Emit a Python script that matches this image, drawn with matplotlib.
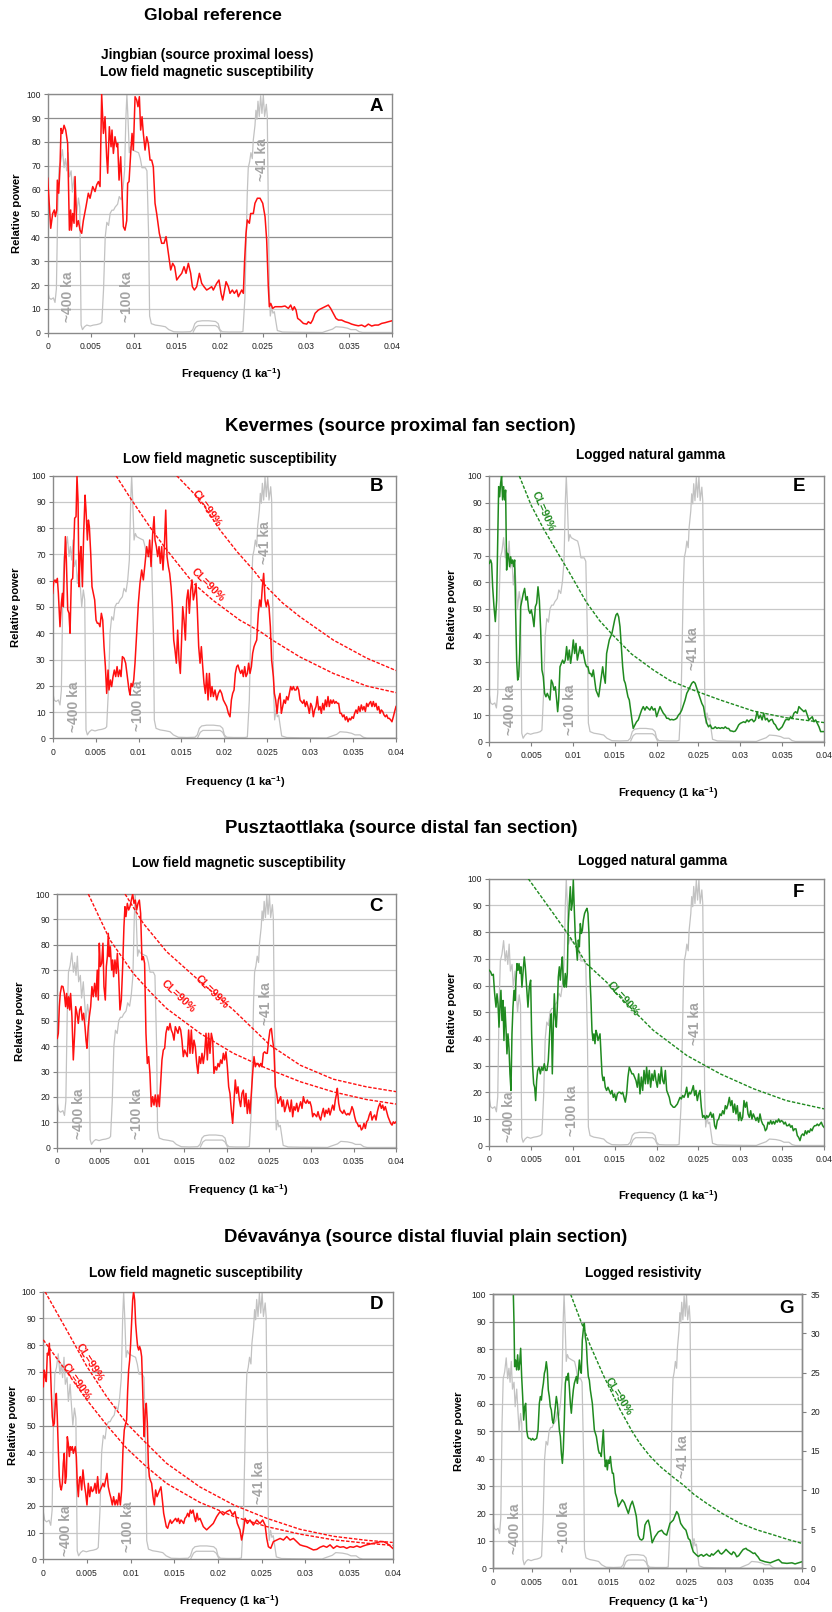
import numpy as np
import matplotlib
matplotlib.use("Agg")
import matplotlib.pyplot as plt

plt.rcParams['font.family'] = ['Liberation Sans', 'DejaVu Sans']
plt.rcParams['mathtext.fontset'] = 'custom'
plt.rcParams['mathtext.rm'] = 'Liberation Sans'
plt.rcParams['mathtext.bf'] = 'Liberation Sans:bold'

W, H = 832, 1612
fig = plt.figure(figsize=(W / 100, H / 100), dpi=100)

# ---------------- data: (frequency [1e-3 ka^-1], relative power [%]) ----------------
ref_orbital = [(0,17.8),(0.16,14.6),(0.39,14),(0.66,14.6),(0.85,12.7),(1.01,18.4),(1.17,52.7),(1.32,69.2),(1.51,71.7),(1.71,76.8),
(1.90,69.2),(2.06,73),(2.21,67.9),(2.37,75.5),(2.52,65.4),(2.72,67.9),(2.87,59),(3.07,65.4),(3.22,57.7),(3.38,50.1),
(3.57,56.5),(3.73,52.7),(3.88,3.2),(4.04,1.3),(4.27,2.5),(4.54,3.2),(4.93,2.8),(5.32,3.2),(5.71,3.4),(6.10,3.8),
(6.29,4.4),(6.49,18.4),(6.68,40),(6.87,46.3),(7.07,45),(7.26,50.1),(7.46,51.4),(7.65,51.4),(7.84,52.7),(8.12,53.9),
(8.31,57.1),(8.54,55.8),(8.74,60.3),(8.93,67.9),(9.09,90.7),(9.20,99.9),(9.32,90.7),(9.48,75.5),(9.63,78),(9.79,76.8),
(10.17,76.1),(10.56,75.5),(10.76,73),(10.95,69.2),(11.34,69.2),(11.53,67.9),(11.73,40),(11.84,7),(12.04,3.8),(12.50,3.2),
(13.09,2.9),(13.67,2.5),(14.06,1.3),(14.64,0.4),(15.61,0.3),(16.58,0.4),(16.85,1.3),(17.09,3.8),(17.36,4.7),(17.94,5),
(18.72,5),(19.50,4.7),(19.81,3.8),(20.00,1.3),(20.27,0.4),(21.05,0.3),(22.41,0.3),(22.68,0.5),(22.91,14.6),(23.07,40),
(23.18,57.7),(23.30,69.2),(23.46,71.7),(23.61,75.5),(23.77,73),(23.88,80.6),(24.08,86.9),(24.19,93.3),(24.31,89.5),(24.43,97.1),
(24.58,90.7),(24.74,99.4),(24.89,92),(25.05,99.6),(25.20,90.7),(25.40,95.8),(25.51,90.7),(25.63,52.7),(25.75,17.1),(25.86,7),
(26.02,10.8),(26.17,8.2),(26.33,8.8),(26.49,5.1),(26.68,0.9),(27.26,0.3),(28.82,0.2),(31.92,0.1),(32.31,0.6),(33.09,1.5),
(33.48,2.5),(34.25,2.3),(34.83,1.9),(35.22,1.3),(35.81,1.3),(36.19,0.4),(36.58,0.1),(40,0.1)]
ref_orbital_low = [(16.9,0.3),(17.2,2.3),(17.5,3.0),(19.5,3.0),(19.8,2.3),(20.1,0.3)]

A_sus = [(0,64.8),(0.15,55.7),(0.35,43.8),(0.58,50),(0.77,51.5),(0.89,48.7),(1.05,51.5),(1.12,64),(1.28,58.5),(1.43,69.6),
(1.55,85.7),(1.70,83.6),(1.90,87),(2.09,85),(2.32,79.4),(2.52,43),(2.67,51.5),(2.75,43),(2.90,50),(3.06,45.9),
(3.18,65.5),(3.37,44.5),(3.56,47),(3.76,43),(3.95,41.7),(4.14,47),(4.45,52.9),(4.72,58.5),(4.92,56.4),(5.23,61.3),
(5.50,59.2),(5.69,62),(5.89,63.4),(6.08,61.3),(6.27,100),(6.47,83.6),(6.66,90.6),(6.85,73.8),(6.97,66.9),(7.16,86.4),
(7.36,78),(7.47,85),(7.63,75.2),(7.82,82.2),(8.02,78),(8.13,79.4),(8.29,64),(8.48,73.8),(8.67,55.7),(8.79,44.5),
(8.98,43),(9.18,47),(9.29,62.7),(9.45,63.4),(9.64,75.2),(9.80,83.6),(9.95,76.6),(10.15,99),(10.34,97.6),(10.49,94.8),
(10.65,99),(10.80,85),(10.96,90.6),(11.11,83.6),(11.31,76.6),(11.50,82.2),(11.69,79.4),(11.89,72.4),(12.08,72.4),(12.27,69.6),
(12.47,54.3),(12.66,50),(12.97,41.7),(13.24,37.5),(13.51,37.5),(13.75,40.3),(14.02,33.3),(14.29,26.3),(14.52,29.1),(14.75,27.7),
(14.99,22.1),(15.26,23.5),(15.57,24.9),(15.84,27.7),(16.07,24.9),(16.34,29.1),(16.61,24.9),(16.81,19.3),(17.04,17.9),(17.31,19.3),
(17.62,24.9),(17.89,20.7),(18.16,19.3),(18.47,17.9),(18.78,18.6),(19.05,19.3),(19.24,17.9),(19.63,20.7),(19.90,22.1),(20.14,16.5),
(20.33,13.7),(20.48,16.5),(20.72,21.4),(20.99,19.3),(21.18,16.5),(21.45,17.9),(21.68,16.5),(21.96,17.9),(22.15,15.1),(22.34,16.5),
(22.54,17.9),(22.73,16.5),(22.88,30.5),(23.04,41.7),(23.19,47.3),(23.43,45.9),(23.58,50),(23.89,50),(24.08,54.3),(24.36,56.4),
(24.67,56.4),(24.98,54.3),(25.25,48.7),(25.44,38.9),(25.63,19.3),(25.75,10.9),(25.91,12.3),(26.14,10.2),(26.41,10.9),(26.80,10.9),
(27.18,10.9),(27.57,11.2),(27.96,10.2),(28.23,11.6),(28.46,9.5),(28.65,10.9),(28.85,9.5),(29.04,6),(29.31,5.3),(29.70,3.9),
(30.09,3.6),(30.28,4.6),(30.55,3.9),(30.78,5.3),(31.06,8.1),(31.44,9.5),(31.83,10.2),(32.22,10.9),(32.60,11.6),(32.87,10.2),
(33.18,8.1),(33.49,6),(33.77,5.3),(34.15,5.3),(34.54,4.6),(34.93,4.2),(35.31,3.6),(35.70,3.2),(36.09,2.9),(36.48,3.2),
(36.86,2.5),(37.25,3.6),(37.64,2.8),(38.02,3.2),(38.41,3.2),(38.80,3.9),(39.19,4.2),(39.57,4.6),(40.00,5)]

B_sus = [(0,55.2),(0.12,59.6),(0.27,60.3),(0.39,59.3),(0.54,60.9),(0.66,55.2),(0.85,42.5),(1.01,51.4),(1.13,55.2),(1.24,50.1),
(1.36,65.4),(1.48,76.8),(1.59,67.9),(1.75,48.9),(1.90,47.6),(2.02,40),(2.17,60.3),(2.33,60.9),(2.45,73),(2.56,83.8),
(2.72,84.4),(2.83,99.9),(2.95,90.7),(3.07,57.7),(3.18,69.2),(3.30,73),(3.46,57.7),(3.61,78),(3.77,92.6),(3.88,86.9),
(4.04,75.5),(4.16,83.1),(4.27,80.6),(4.43,70.4),(4.58,57.7),(4.74,55.2),(4.89,52.7),(5.05,45),(5.20,43.8),(5.36,43.8),
(5.51,42.5),(5.67,47.6),(5.83,45),(5.98,34.9),(6.14,27.3),(6.29,17.1),(6.45,26),(6.56,18.4),(6.72,22.2),(6.87,19.7),
(7.03,23.5),(7.18,26),(7.34,23.5),(7.50,27.3),(7.65,23.5),(7.81,26),(7.96,23.5),(8.12,31.1),(8.31,30.5),(8.50,28.6),
(8.70,23.5),(8.89,18.4),(9.01,16.5),(9.13,20.9),(9.28,19.7),(9.44,22.2),(9.59,28.6),(9.79,40),(9.98,51.4),(10.17,59),
(10.37,64.1),(10.56,60.3),(10.76,66.6),(10.95,73),(11.15,69.2),(11.30,75.5),(11.46,65.4),(11.65,78),(11.81,84.4),(11.92,75.5),
(12.08,73),(12.23,69.2),(12.39,73),(12.54,66.6),(12.70,73),(12.85,64.1),(13.01,73),(13.17,86.9),(13.32,69.2),(13.48,65.4),
(13.63,62.8),(13.79,57.7),(13.94,50.1),(14.10,37.4),(14.25,33.6),(14.41,28.6),(14.56,41.2),(14.72,29.8),(14.87,24.7),(14.99,34.9),
(15.15,50.1),(15.30,45),(15.46,37.4),(15.61,52.7),(15.77,56.5),(15.92,47.6),(16.08,56.5),(16.23,60.3),(16.39,52.7),(16.54,55.2),
(16.70,59),(16.85,48.9),(17.01,34.9),(17.17,28.6),(17.32,34.9),(17.48,27.3),(17.63,20.9),(17.79,17.1),(17.94,24.7),(18.10,14.6),
(18.25,24.7),(18.41,15.9),(18.56,19.7),(18.72,15.9),(18.91,18.4),(19.11,14.6),(19.30,17.1),(19.50,18.4),(19.69,17.1),(19.88,14.6),
(20.08,13.3),(20.27,12.1),(20.47,9.5),(20.66,8.2),(20.82,14.6),(20.97,17.1),(21.13,18.4),(21.28,24.7),(21.44,27.3),(21.59,27.9),
(21.75,26),(21.90,24.7),(22.06,26),(22.21,23.5),(22.37,27.3),(22.52,23.5),(22.68,24.7),(22.83,28.6),(22.99,24.7),(23.15,27.3),
(23.30,32.4),(23.46,34.9),(23.61,36.2),(23.77,37.4),(23.96,47.6),(24.12,52.7),(24.27,50.1),(24.43,57.7),(24.58,62.8),(24.74,52.7),
(24.89,50.1),(25.05,52.7),(25.20,50.1),(25.36,42.5),(25.51,29.8),(25.71,23.5),(25.83,17.1),(25.98,14.6),(26.14,9.5),(26.29,14.6),
(26.49,17.1),(26.64,9.5),(26.80,12.1),(26.95,14.6),(27.11,13.3),(27.26,15.9),(27.42,14.6),(27.57,17.1),(27.73,19.7),(27.88,18.4),
(28.04,19.7),(28.19,18.4),(28.35,18.4),(28.50,19.7),(28.66,18.4),(28.82,14.6),(28.97,14),(29.13,13.3),(29.28,14.6),(29.44,12.1),
(29.59,14),(29.75,12.1),(29.90,9.5),(30.06,13.3),(30.21,12.1),(30.37,8.2),(30.52,10.8),(30.68,12.1),(30.83,15.9),(30.99,10.8),
(31.15,12.1),(31.30,9.5),(31.46,13.3),(31.61,10.8),(31.77,14.6),(31.92,12.1),(32.08,15.9),(32.23,12.1),(32.39,14.6),(32.54,13.3),
(32.70,14.6),(32.85,13.3),(33.01,14),(33.17,13.3),(33.32,13.3),(33.48,9.5),(33.63,9.5),(33.79,8.2),(33.94,8.9),(34.10,7),
(34.25,8.2),(34.41,6.3),(34.56,7.6),(34.72,7),(34.87,8.2),(35.03,7.6),(35.18,9.5),(35.34,10.8),(35.50,9.5),(35.65,12.1),
(35.81,10.2),(35.96,12.7),(36.12,10.8),(36.27,12.1),(36.43,10.2),(36.58,13.3),(36.74,12.1),(36.89,13.3),(37.05,14),(37.20,12.1),
(37.36,14),(37.51,12.1),(37.67,13.3),(37.83,10.8),(37.98,12.1),(38.14,9.5),(38.29,10.8),(38.45,10.2),(38.60,8.9),(38.76,8.2),
(38.91,8.9),(39.07,7.6),(39.22,7.6),(39.38,7),(39.53,6.3),(39.69,8.2),(39.84,10.2),(40.00,12.1)]

E_gamma = [(0,67.1),(0.16,68.4),(0.28,67.1),(0.40,58.3),(0.56,50.8),(0.72,45.2),(0.88,53.3),(1.00,75.9),(1.12,96),(1.24,92.2),
(1.35,97.2),(1.47,100),(1.59,91),(1.71,96),(1.83,91),(1.95,94.7),(2.07,64.6),(2.19,70.9),(2.31,69.6),(2.43,65.9),
(2.55,69.6),(2.67,67.1),(2.79,68.4),(2.91,65.9),(3.03,68.4),(3.15,48.3),(3.27,30.7),(3.39,23.2),(3.51,24.5),(3.63,33.2),
(3.75,50.8),(3.90,53.3),(4.06,55.8),(4.22,57.7),(4.38,53.3),(4.54,54.6),(4.70,49.6),(4.86,48.3),(5.02,49.6),(5.18,47),
(5.34,43.3),(5.50,50.8),(5.66,52.1),(5.82,58.3),(5.98,53.3),(6.14,42),(6.29,27),(6.45,24.5),(6.61,18.2),(6.77,16.9),
(6.93,18.2),(7.09,16.9),(7.25,15.7),(7.41,23.2),(7.57,22),(7.73,19.4),(7.89,20.7),(8.05,15.7),(8.17,11.3),(8.29,15.7),
(8.45,28.2),(8.61,29.5),(8.76,30.7),(8.92,29.5),(9.08,30.7),(9.24,35.8),(9.40,30.7),(9.56,34.5),(9.72,29.5),(9.88,33.2),
(10.04,38.3),(10.20,33.2),(10.36,37),(10.52,30.7),(10.68,33.2),(10.84,35.8),(11.00,33.2),(11.16,34.5),(11.31,32),(11.47,29.5),
(11.63,28.2),(11.79,28.2),(11.95,25.7),(12.11,25.7),(12.27,24.5),(12.43,27),(12.59,23.2),(12.75,19.4),(12.91,18.2),(13.07,16.9),
(13.23,20.7),(13.39,24.5),(13.55,28.2),(13.71,24.5),(13.86,22),(14.02,33.2),(14.18,35.8),(14.34,38.3),(14.50,39.5),(14.66,40.8),
(14.82,43.3),(14.98,45.8),(15.14,47.7),(15.30,48.3),(15.46,47),(15.62,43.3),(15.78,35.8),(15.94,28.2),(16.10,23.2),(16.25,22),
(16.41,19.4),(16.57,16.9),(16.73,15.7),(16.89,11.9),(17.05,8.2),(17.2,5),(17.4,6.3),(17.6,7.5),(17.8,8.2),(18.0,10),
(18.2,11.9),(18.4,13.2),(18.6,11.9),(18.8,13.2),(19.0,12.5),(19.2,11.9),(19.4,13.2),(19.6,11.9),(19.8,12.5),(20.0,9.4),
(20.2,11.3),(20.4,13.2),(20.6,11.9),(20.8,10.7),(21.0,10),(21.2,8.8),(21.4,8.8),(21.6,8.2),(21.8,8.4),(22.0,8.2),
(22.2,8.4),(22.4,8.8),(22.6,10),(22.8,10.7),(23.0,11.9),(23.2,13.8),(23.4,15.7),(23.6,18.2),(23.8,19.4),(24.0,20.7),
(24.2,22),(24.4,22.6),(24.6,22),(24.8,20.1),(25.0,18.2),(25.2,16.3),(25.4,14.4),(25.6,13.2),(25.8,9.4),(26.0,6.9),
(26.2,5.6),(26.4,6.3),(26.6,5),(26.8,5),(27.0,5.6),(27.2,5),(27.4,5.3),(27.6,5),(27.8,5.3),(28.0,5),
(28.2,5.6),(28.4,5),(28.6,5),(28.8,4.1),(29.0,4),(29.2,3.8),(29.4,4),(29.6,5),(29.8,6.3),(30.0,6.9),
(30.2,7.2),(30.4,7.5),(30.6,7.2),(30.8,8.2),(31.0,7.5),(31.2,8.2),(31.4,8.4),(31.6,7.5),(31.8,8.2),(32.0,11.3),
(32.2,8.8),(32.4,10),(32.6,8.2),(32.8,10.7),(33.0,8.2),(33.2,8.8),(33.4,7.5),(33.6,8.2),(33.8,8.4),(34.0,6.9),
(34.2,6.3),(34.4,5),(34.6,4.4),(34.8,5),(35.0,5.6),(35.2,6.9),(35.4,8.2),(35.6,8.4),(35.8,8.2),(36.0,9.4),
(36.2,8.8),(36.4,10.7),(36.6,11.3),(36.8,10.7),(37.0,13.2),(37.2,12.5),(37.4,11.9),(37.6,11.3),(37.8,11.9),(38.0,10),
(38.2,8.2),(38.4,8.8),(38.6,9.4),(38.8,7.5),(39.0,8.2),(39.2,6.9),(39.4,5.6),(39.6,3.8),(39.8,3.8),(40.0,3.8)]

C_sus = [(0,43.1),(0.12,45.1),(0.24,55.6),(0.35,60.8),(0.51,63.7),(0.67,63.5),(0.83,60.8),(0.98,55.6),(1.10,60.8),(1.22,54.9),
(1.34,59.5),(1.46,54.3),(1.57,60.8),(1.73,51.6),(1.89,34.6),(2.05,45.1),(2.17,55.6),(2.32,53),(2.48,49),(2.64,54.3),
(2.80,55.6),(2.95,50.3),(3.11,53),(3.27,47.7),(3.39,42.4),(3.50,39.2),(3.66,47.7),(3.78,51.6),(3.94,55.6),(4.09,63.5),
(4.25,59.5),(4.41,64.8),(4.57,59.5),(4.72,70),(4.84,58.2),(4.96,80.6),(5.08,71.4),(5.24,72.7),(5.39,80.6),(5.51,63.5),
(5.67,58.2),(5.79,71.4),(5.91,75.3),(6.02,84.5),(6.14,75.3),(6.26,79.2),(6.42,70),(6.54,74),(6.65,67.4),(6.81,74),
(6.97,68.7),(7.09,76.6),(7.24,68.7),(7.40,54.3),(7.56,58.2),(7.72,71.4),(7.87,87.1),(7.99,95),(8.11,91.1),(8.27,96.3),
(8.43,93.7),(8.58,95),(8.74,97.6),(8.90,100),(9.06,96.3),(9.21,97.6),(9.37,93.7),(9.53,96.3),(9.69,97.6),(9.84,92.4),
(10.00,74),(10.16,75.3),(10.31,72.7),(10.47,45.1),(10.63,33.2),(10.79,35.9),(10.94,29.3),(11.10,16.2),(11.26,20.1),(11.42,16.8),
(11.57,20.8),(11.73,16.2),(11.89,20.8),(12.05,16.2),(12.20,25.4),(12.36,34.6),(12.52,38.5),(12.68,39.2),(12.83,45.1),(12.99,47.7),
(13.15,46.4),(13.31,49),(13.46,46.4),(13.62,45.1),(13.78,42.4),(13.94,47.7),(14.09,46.4),(14.25,45.1),(14.41,47.7),(14.57,46.4),
(14.72,42.4),(14.88,35.9),(15.04,38.5),(15.20,37.2),(15.35,35.9),(15.51,46.4),(15.67,37.2),(15.83,46.4),(15.98,37.2),(16.14,42.4),
(16.30,39.8),(16.46,33.2),(16.61,29.3),(16.77,35.9),(16.93,33.2),(17.09,37.2),(17.24,33.2),(17.40,37.2),(17.56,45.1),(17.72,34.6),
(17.87,45.1),(18.03,37.2),(18.19,45.1),(18.35,42.4),(18.50,29.3),(18.66,31.9),(18.82,30.6),(18.98,33.2),(19.13,31.9),(19.29,34.6),
(19.45,33.2),(19.61,37.2),(19.76,34.6),(19.92,37.8),(20.08,31.9),(20.24,24),(20.39,21.4),(20.55,14.8),(20.71,9.6),(20.87,18.8),
(21.02,26.7),(21.18,21.4),(21.34,24),(21.50,18.8),(21.65,16.2),(21.81,21.4),(21.97,22.7),(22.13,16.2),(22.28,21.4),(22.44,13.5),
(22.60,18.8),(22.76,13.5),(22.91,21.4),(23.07,29.3),(23.23,35.9),(23.39,31.9),(23.54,33.2),(23.70,33.2),(23.86,31.9),(24.02,33.2),
(24.17,31.9),(24.33,37.2),(24.49,37.8),(24.65,37.2),(24.80,37.2),(24.96,42.4),(25.12,46.4),(25.28,47),(25.43,42.4),(25.59,38.5),
(25.75,24),(25.91,21.4),(26.06,17.5),(26.22,18.8),(26.38,20.1),(26.54,16.2),(26.69,18.8),(26.85,14.2),(27.01,16.2),(27.17,18.8),
(27.32,16.2),(27.48,14.2),(27.64,18.8),(27.80,12.2),(27.95,16.2),(28.11,14.8),(28.27,17.5),(28.43,14.2),(28.58,16.2),(28.74,18.1),
(28.90,15.5),(29.06,20.1),(29.21,18.1),(29.37,17.5),(29.53,18.8),(29.69,17.5),(29.84,18.1),(30.00,16.2),(30.16,12.2),(30.31,13.5),
(30.47,12.9),(30.63,12.2),(30.79,14.2),(30.94,12.2),(31.10,10.9),(31.26,13.5),(31.42,15.5),(31.57,12.2),(31.73,14.8),(31.89,13.5),
(32.05,15.5),(32.20,12.9),(32.36,14.8),(32.52,16.8),(32.68,14.8),(32.83,18.8),(32.99,21.4),(33.07,23.4),(33.23,17.5),(33.39,14.8),
(33.54,14.2),(33.70,13.5),(33.86,14.8),(34.02,13.5),(34.17,12.9),(34.33,13.5),(34.49,12.9),(34.65,14.2),(34.80,16.2),(34.96,14.8),
(35.12,12.2),(35.28,10.2),(35.43,9.6),(35.59,8.3),(35.75,8.9),(35.91,7),(36.06,7.6),(36.22,9.6),(36.38,7.6),(36.54,10.2),
(36.69,10.9),(36.85,12.9),(37.01,14.2),(37.17,10.9),(37.32,12.2),(37.48,12.9),(37.64,10.9),(37.80,14.2),(37.95,16.2),(38.11,17.5),
(38.27,15.5),(38.43,16.8),(38.58,14.8),(38.74,16.2),(38.90,14.2),(39.06,12.2),(39.21,10.9),(39.37,9.6),(39.53,8.9),(39.69,10.2),
(39.84,9.6),(40.00,10.2)]

F_gamma = [(0,65.7),(0.16,65.1),(0.32,63.8),(0.48,64.2),(0.64,56.9),(0.80,51.9),(0.92,56.9),(1.04,53.2),(1.16,44.4),(1.27,51.9),
(1.39,58.2),(1.51,46.9),(1.63,54.4),(1.75,39.4),(1.87,51.9),(1.99,44.4),(2.11,34.4),(2.23,41.9),(2.35,36.9),(2.47,26.9),
(2.59,20.7),(2.71,41.9),(2.83,51.9),(2.95,58.2),(3.07,54.4),(3.19,62),(3.31,68.2),(3.43,65.7),(3.55,68.2),(3.67,64.5),
(3.78,67),(3.90,59.4),(4.02,64.5),(4.18,70.7),(4.30,67),(4.46,59.4),(4.62,51.9),(4.78,59.4),(4.94,62),(5.06,41.9),
(5.18,29.4),(5.30,23.2),(5.42,21.9),(5.54,16.9),(5.66,24.4),(5.78,28.2),(5.94,29.4),(6.10,26.9),(6.25,29.4),(6.41,28.2),
(6.57,30.7),(6.73,28.2),(6.89,28.2),(7.05,31.9),(7.17,39.4),(7.29,46.9),(7.41,49.4),(7.53,26.9),(7.65,44.4),(7.77,56.9),
(7.89,48.2),(8.01,44.4),(8.13,51.9),(8.25,63.2),(8.37,67),(8.49,62),(8.61,67),(8.73,70.7),(8.84,60.7),(8.96,59.4),
(9.08,64.5),(9.20,59.4),(9.32,64.5),(9.44,83.2),(9.56,90.7),(9.68,97),(9.80,88.2),(9.92,90.7),(10.04,99.5),(10.16,88.2),
(10.28,78.2),(10.40,74.5),(10.52,69.5),(10.64,77),(10.76,74.5),(10.88,83.2),(11.00,79.5),(11.12,80.7),(11.24,84.5),(11.39,87),
(11.55,88.2),(11.67,88.9),(11.79,87),(11.91,79.5),(12.03,63.2),(12.15,54.4),(12.27,43.2),(12.39,39.4),(12.51,41.9),(12.63,38.2),
(12.75,43.2),(12.87,41.9),(12.99,39.4),(13.11,40.7),(13.23,41.9),(13.35,34.4),(13.47,26.9),(13.59,24.4),(13.71,25.7),(13.86,21.9),
(14.02,20.7),(14.18,21.9),(14.34,20.7),(14.50,19.4),(14.66,20.7),(14.82,18.1),(14.98,19.4),(15.14,16.9),(15.30,19.4),(15.46,20),
(15.62,20),(15.78,19.4),(15.94,20),(16.10,18.1),(16.25,16.3),(16.41,19.4),(16.57,25.7),(16.73,29.4),(16.89,28.2),(17.05,26.9),
(17.21,26.9),(17.37,25.7),(17.53,24.4),(17.69,21.9),(17.85,26.9),(18.01,19.4),(18.17,25.7),(18.33,20.7),(18.49,28.2),(18.65,23.2),
(18.80,29.4),(18.96,23.2),(19.12,28.2),(19.28,21.9),(19.44,26.9),(19.60,24.4),(19.76,28.2),(19.92,24.4),(20.08,21.9),(20.24,26.9),
(20.40,23.2),(20.56,29.4),(20.72,24.4),(20.88,23.2),(21.04,28.2),(21.20,20.7),(21.35,19.4),(21.51,18.1),(21.67,15.6),(21.83,15),
(21.99,14.4),(22.15,14.4),(22.31,15),(22.47,15.6),(22.63,16.9),(22.79,18.1),(22.95,17.5),(23.11,18.8),(23.27,18.1),(23.43,19.4),
(23.59,21.9),(23.75,18.1),(23.90,20),(24.06,19.4),(24.22,20.7),(24.38,22.5),(24.54,18.8),(24.70,20.7),(24.86,16.9),(25.02,19.4),
(25.18,20.7),(25.34,14.4),(25.50,10.6),(25.66,11.3),(25.82,10),(25.98,11.3),(26.14,10.6),(26.29,11.3),(26.45,12.5),(26.61,10.6),
(26.77,11.9),(26.93,7.5),(27.09,6.3),(27.25,9.4),(27.41,10),(27.57,11.9),(27.73,11.3),(27.89,13.1),(28.05,11.9),(28.21,15),
(28.37,13.8),(28.53,15.6),(28.69,18.1),(28.84,15),(29.00,16.9),(29.16,12.5),(29.32,15.6),(29.48,11.9),(29.64,15),(29.80,9.4),
(29.96,12.5),(30.12,9.4),(30.28,10.6),(30.44,16.9),(30.60,14.4),(30.76,16.3),(30.92,11.9),(31.08,10.6),(31.24,13.1),(31.39,10),
(31.55,11.9),(31.71,10.6),(31.87,9.4),(32.03,10.6),(32.19,8.8),(32.35,11.9),(32.51,9.4),(32.67,8.1),(32.83,7.5),(32.99,5.6),
(33.15,6.3),(33.31,8.8),(33.47,8.1),(33.63,9.4),(33.78,8.1),(33.94,9.1),(34.10,8.1),(34.26,9.4),(34.42,8.8),(34.58,10),
(34.74,8.8),(34.90,9.4),(35.06,9.1),(35.22,8.1),(35.38,8.8),(35.54,7.5),(35.70,7.5),(35.86,8.1),(36.02,6.9),(36.18,7.5),
(36.33,5.6),(36.49,6.3),(36.65,6.3),(36.81,3.8),(36.97,3.1),(37.13,1.9),(37.29,3.8),(37.45,4.4),(37.61,3.8),(37.77,5.6),
(37.93,4.4),(38.09,5.6),(38.25,5),(38.41,6.3),(38.57,5.6),(38.73,6.9),(38.88,7.5),(39.04,7.5),(39.20,8.1),(39.36,7.5),
(39.52,8.1),(39.68,8.8),(39.84,7.5),(40.00,6.9)]

D_sus = [(0,64.5),(0.11,70.7),(0.23,68.2),(0.34,66.4),(0.46,77),(0.57,76.3),(0.69,80.7),(0.80,73.2),(0.92,62),(1.03,53.3),
(1.15,49.8),(1.26,50.8),(1.37,58.3),(1.49,62),(1.60,53.3),(1.72,40.8),(1.83,30.9),(1.95,27.1),(2.06,25.9),(2.18,28.4),
(2.29,35.9),(2.40,39.6),(2.52,28.4),(2.63,30.9),(2.75,45.8),(2.86,43.3),(2.98,38.4),(3.09,42.1),(3.21,40.8),(3.32,42.1),
(3.44,39.6),(3.55,40.8),(3.66,42.1),(3.78,38.4),(3.89,28.4),(4.01,23.4),(4.12,29.6),(4.24,30.9),(4.39,25.9),(4.54,33.4),
(4.69,28.4),(4.85,24.7),(5.00,20.3),(5.15,28.4),(5.31,23.4),(5.46,27.1),(5.61,25.3),(5.76,25.9),(5.92,28.4),(6.07,24.7),
(6.22,30.9),(6.37,24.7),(6.53,25.9),(6.68,27.1),(6.83,28.4),(6.98,27.1),(7.14,29.6),(7.29,32.1),(7.44,27.1),(7.60,24.7),
(7.75,22.8),(7.90,20.3),(8.05,23.4),(8.21,20.3),(8.36,22.2),(8.51,20.3),(8.66,24.7),(8.82,20.3),(8.97,25.9),(9.12,40.8),
(9.27,48.3),(9.43,50.8),(9.54,52.1),(9.66,63.3),(9.77,70.7),(9.89,74.5),(10.00,80.7),(10.11,88.2),(10.23,96.9),(10.34,100),
(10.46,96.9),(10.57,88.2),(10.69,83.2),(10.80,79.5),(10.92,78.2),(11.03,79.5),(11.15,78.2),(11.26,75.7),(11.37,64.5),(11.49,50.8),
(11.56,45.8),(11.68,55.8),(11.79,58.3),(11.91,50.8),(12.02,35.9),(12.14,30.9),(12.25,29.6),(12.40,28.4),(12.56,23.4),(12.71,20.3),
(12.86,25.9),(13.02,23.4),(13.17,24.7),(13.32,25.9),(13.47,27.1),(13.63,22.2),(13.78,17.2),(13.93,14.7),(14.08,12.2),(14.24,11.6),
(14.39,13.4),(14.54,14.7),(14.69,13.4),(14.85,14.1),(15.00,14.7),(15.15,15.3),(15.31,14.1),(15.46,15.3),(15.61,13.4),(15.76,14.7),
(15.92,14.1),(16.07,13.4),(16.22,15.3),(16.37,15.9),(16.53,17.2),(16.68,15.9),(16.83,18.4),(16.98,17.2),(17.14,18.4),(17.29,15.9),
(17.44,14.1),(17.60,17.2),(17.75,14.7),(17.94,15.3),(18.32,12.2),(18.7,11),(19.08,12.2),(19.46,13.4),(19.84,15.9),(20.23,17.8),
(20.61,16.6),(20.99,17.8),(21.37,18.4),(21.68,16.6),(21.94,17.8),(22.21,13.4),(22.51,11),(22.7,7.2),(22.89,10.3),(23.1,15.3),
(23.36,13.4),(23.66,14.7),(24.05,12.8),(24.43,14.7),(24.81,13.4),(25.12,14.7),(25.39,12.8),(25.58,7.8),(25.77,4.7),(26.04,4.1),
(26.34,6.6),(26.72,7.2),(27.11,7.8),(27.49,7.2),(27.87,8.5),(28.25,7.2),(28.63,7.8),(29.01,6.6),(29.39,5.4),(29.77,5.0),
(30.16,4.7),(30.54,4.1),(30.92,3.5),(31.3,3.7),(31.68,4.5),(32.07,5.0),(32.45,4.5),(32.83,5.4),(33.21,4.1),(33.6,5.0),
(33.98,4.5),(34.36,4.7),(34.74,4.1),(35.12,4.7),(35.5,4.5),(35.89,5.0),(36.27,4.5),(36.65,5.0),(37.03,5.4),(37.41,5.7),
(37.8,6.0),(38.18,6.2),(38.56,6.6),(38.94,6.6),(39.32,6.0),(39.7,5.0),(40.0,4.1)]

G_res = [(2.60,104),(2.63,100),(2.72,89.4),(2.80,73.6),(2.93,76),(3.06,72.4),(3.19,77.9),(3.32,72.4),(3.45,74.8),(3.58,80.3),
(3.71,70),(3.84,62.7),(3.97,54.1),(4.10,59),(4.23,60.2),(4.36,50.5),(4.49,48.1),(4.62,47.4),(4.79,47.4),(4.96,46.8),
(5.13,47.4),(5.31,46.8),(5.48,47.1),(5.65,47.4),(5.83,50.5),(6.00,60.2),(6.13,62.7),(6.26,61.4),(6.39,65.1),(6.52,67.5),
(6.65,71.2),(6.77,72.4),(6.90,75.4),(7.03,72.4),(7.16,65.1),(7.29,62.7),(7.42,59),(7.55,57.8),(7.68,54.1),(7.81,52.9),
(7.94,55.4),(8.07,59),(8.20,62.7),(8.33,60.2),(8.46,55.4),(8.59,50.5),(8.72,48.1),(8.85,42),(8.98,38.3),(9.10,43.2),
(9.23,54.1),(9.36,67.5),(9.49,70),(9.62,68.7),(9.75,71.2),(9.88,66.3),(10.01,60.2),(10.14,56.6),(10.27,61.4),(10.40,65.1),
(10.53,67.5),(10.66,68.7),(10.79,70),(10.92,67.5),(11.05,71.2),(11.18,76),(11.31,72.4),(11.43,71.2),(11.56,83.3),(11.69,87),
(11.82,89.4),(11.95,84.5),(12.08,82.1),(12.21,74.8),(12.34,70),(12.47,68.7),(12.60,65.1),(12.73,62.7),(12.86,60.2),(12.99,55.4),
(13.12,50.5),(13.25,49.3),(13.38,48.1),(13.51,45.6),(13.64,43.2),(13.76,42),(13.89,42),(14.02,40.8),(14.15,45.6),(14.28,50.5),
(14.41,42),(14.54,37.1),(14.67,39.5),(14.80,35.9),(14.93,39.5),(15.06,38.3),(15.19,40.8),(15.32,37.1),(15.45,34.7),(15.58,34.7),
(15.71,31),(15.84,27.4),(15.97,26.2),(16.09,24.9),(16.22,22.5),(16.48,23.7),(16.74,25),(17.0,24),(17.26,22),(17.52,20),
(17.8,23),(18.04,24.5),(18.3,22),(18.55,19),(18.8,12),(19.03,10.6),(19.25,10.3),(19.46,10.9),(19.67,15.8),(19.89,17),
(20.1,17.6),(20.3,15.2),(20.6,9.3),(20.96,11.5),(21.4,13.3),(21.83,13.9),(22.13,12.7),(22.48,12.1),(22.91,16.4),(23.34,17.6),
(23.78,20.7),(23.99,19.8),(24.29,16.4),(24.64,14.9),(24.98,13.9),(25.28,10.9),(25.5,10.3),(25.72,7.8),(25.93,6.0),(26.36,4.8),
(26.6,4.3),(26.8,4.8),(27.0,5.0),(27.23,4.4),(27.66,5.2),(27.9,4.6),(28.1,4.4),(28.3,5.3),(28.5,4.8),(28.8,5.6),
(29.17,6.6),(29.4,5.5),(29.6,5.2),(29.9,6.0),(30.16,6.9),(30.4,6.2),(30.7,5.4),(30.9,5.0),(31.1,6.0),(31.3,5.6),
(31.55,4.2),(31.8,4.6),(32.0,5.4),(32.2,6.2),(32.4,6.9),(32.75,7.3),(32.9,6.8),(33.2,6.4),(33.4,6.0),(33.7,5.4),
(33.9,5.6),(34.1,4.8),(34.3,4.2),(34.57,3.0),(35.2,2.4),(35.9,2.0),(36.5,2.7),(36.97,3.2),(37.4,2.0),(38.05,1.8),
(38.7,2.0),(39.1,1.6),(39.56,2.0),(40.0,2.4)]

# confidence-level curves
B_cl90 = [(7.38,100),(9.2,90.7),(11.7,78.7),(13.3,71.7),(16.4,59),(18.7,52.5),(21.8,45),(24.2,40.6),(25.7,37.2),(28.8,31),(32.7,24.7),(36.6,19.9),(40,17.4)]
B_cl99 = [(14.45,100),(17.2,90.7),(19.5,79.3),(21.5,71),(23.4,64),(24.9,57.7),(26.8,51.5),(28.8,46.3),(32.7,37.4),(36.6,30.5),(40,25.8)]
E_cl90 = [(3.59,100),(5.0,89),(6.5,80),(8.0,72),(9.6,63.5),(11.6,52.5),(13.2,45.5),(14.8,40),(17.0,33),(19.6,27),(21.6,23),(24.4,19.4),(27.6,15.7),(31.6,11.5),(35.5,9),(40,7.2)]
C_cl90 = [(3.66,100),(6.22,81.9),(8.98,68.7),(10.94,61.5),(12.9,54.9),(16.9,45),(20.8,37.2),(24.7,31.3),(28.7,26),(32.6,22),(36.5,19),(40,17.2)]
C_cl99 = [(8.0,100),(10.16,88.4),(12.9,77.3),(16.9,65.4),(20.8,54.3),(25.1,40.5),(28.7,32.5),(32.6,27),(36.5,24),(40,22.1)]
F_cl90 = [(4.66,100),(7.65,87),(9.64,78.2),(11.6,68.2),(14.0,61.3),(15.6,55.7),(19.6,43.2),(23.6,33.8),(27.6,26.9),(31.6,21.3),(35.5,16.9),(40,13.8)]
D_cl99 = [(0.2,100),(2.67,85.7),(5.0,72),(7.25,60.8),(9.54,50.8),(11.8,43.3),(14.1,35.9),(17.9,27.1),(21.8,20.3),(25.6,15.3),(29.4,11.2),(33.2,8.6),(37.0,7.1),(40,6.3)]
D_cl90 = [(0,82),(2.67,70.1),(5.0,59.5),(7.25,50.2),(9.54,41.5),(11.8,34.6),(14.1,28.4),(17.9,21.3),(21.8,16),(25.6,12.2),(29.4,9.4),(33.2,7.3),(37.0,6.0),(40,5.2)]
G_cl90 = [(10.05,100),(11.26,91),(12.56,81.5),(14.28,70.5),(16.44,58),(18.0,50),(19.03,45.5),(20.3,41),(21.7,37),(23.34,33.2),(24.64,30.4),(26.0,27),(27.66,23.7),(29.8,19.8),(32,16.4),(34.2,14),(36.3,12.2),(38.2,10.5),(40,9.1)]

FREQ_TICKS = [0, 0.005, 0.01, 0.015, 0.02, 0.025, 0.03, 0.035, 0.04]
FREQ_LABELS = ['0', '0.005', '0.01', '0.015', '0.02', '0.025', '0.03', '0.035', '0.04']
POWER_TICKS = list(range(0, 101, 10))
RIGHT_TICKS = list(range(0, 36, 5))
KA_LABELS = ['~400 ka', '~100 ka', '~41 ka']

RED = '#ff1010'
GREEN = '#1f8a1f'
GRAY = '#c2c2c2'


def xy(pairs):
    a = np.array(pairs, dtype=float)
    return a[:, 0] * 1e-3, a[:, 1]


def ftext(xp, yp, s, size, **kw):
    fig.text(xp / W, 1 - yp / H, s, ha='center', va='center', fontsize=size,
             fontweight='bold', **kw)


def panel(box, series, color, cls, letter, letter_xy, ka_pos, dark_grid,
          xlab_off, ylab_off, right_axis=False):
    left, top, right, bottom = box
    wpx, hpx = right - left, bottom - top
    ax = fig.add_axes([left / W, 1 - bottom / H, wpx / W, hpx / H])
    ax.set_xlim(0, 0.04)
    ax.set_ylim(0, 100)
    for v in POWER_TICKS[1:]:
        ax.axhline(v, color='#8e8e8e' if v in dark_grid else '#c8c8c8', lw=0.9, zorder=0)
    gx, gy = xy(ref_orbital)
    ax.plot(gx, gy, color=GRAY, lw=0.9, zorder=1)
    gx2, gy2 = xy(ref_orbital_low)
    ax.plot(gx2, gy2, color=GRAY, lw=0.9, zorder=1)
    for lab, (kx, ky) in zip(KA_LABELS, ka_pos):
        ax.text(kx * 1e-3, ky, lab, rotation=90, ha='center', va='center',
                color='#a4a4a4', fontsize=10, fontweight='bold', zorder=2)
    for curve, lab, (lx, ly, ang) in cls:
        cx, cy = xy(curve)
        ax.plot(cx, cy, color=color, lw=1.0, ls=(0, (2.5, 1.2)), zorder=3)
        ax.text(lx * 1e-3, ly, lab, rotation=ang, rotation_mode='anchor', ha='center',
                va='center', color=color, fontsize=7.8, fontweight='bold', zorder=4)
    sx, sy = xy(series)
    ax.plot(sx, sy, color=color, lw=1.1, zorder=5)

    ax.set_xticks(FREQ_TICKS)
    ax.set_xticklabels(FREQ_LABELS)
    ax.set_yticks(POWER_TICKS)
    ax.tick_params(axis='both', direction='out', length=3, width=0.8, color='#808080',
                   labelsize=6.2, labelcolor='#222222')
    ax.tick_params(axis='x', pad=4)
    ax.tick_params(axis='y', pad=2)
    for s in ax.spines.values():
        s.set_color('#8a8a8a')
        s.set_linewidth(1.0)
    ax.set_xlabel(r'Frequency (1 ka$^{\mathbf{-1}}$)', fontsize=8.1, fontweight='bold', va='center')
    ax.xaxis.set_label_coords(0.5 + 11 / wpx, -xlab_off / hpx)
    ax.set_ylabel('Relative power', fontsize=8.1, fontweight='bold', va='center')
    ax.yaxis.set_label_coords(-ylab_off / wpx, 0.5)
    ax.text(letter_xy[0], letter_xy[1], letter, transform=ax.transAxes, ha='right',
            va='center', fontsize=13.5, fontweight='bold', zorder=6)
    if right_axis:
        ax2 = ax.twinx()
        ax2.set_ylim(0, 35)
        ax2.set_yticks(RIGHT_TICKS)
        ax2.tick_params(axis='y', direction='out', length=3, width=0.8, color='#808080',
                        labelsize=6.2, labelcolor='#222222', pad=3)
        for s in ax2.spines.values():
            s.set_color('#8a8a8a')
            s.set_linewidth(1.0)
    return ax


# ---------------- panels ----------------
panel((47.7, 94.3, 392.0, 332.7), A_sus, RED, [], 'A', (0.974, 0.947),
      [(2.40, 15.1), (9.25, 15.0), (24.94, 72.8)], {30, 40, 80, 90}, 41.6, 31)

panel((52.7, 475.7, 396.0, 738.3), B_sus, RED,
      [(B_cl99, 'CL=99%', (17.9, 87.6, -54)), (B_cl90, 'CL=90%', (18.1, 58.4, -45))],
      'B', (0.962, 0.958), [(2.49, 12.0), (9.90, 12.3), (24.74, 74.5)], set(), 43.4, 37)

panel((489.3, 476.0, 824.0, 741.7), E_gamma, GREEN,
      [(E_cl90, 'CL=90%', (6.45, 86.6, -66))],
      'E', (0.943, 0.959), [(2.47, 11.9), (9.64, 11.9), (24.3, 35.1)], {80}, 51, 37.6)

panel((57.3, 894.0, 396.0, 1147.7), C_sus, RED,
      [(C_cl99, 'CL=99%', (18.2, 61.5, -45)), (C_cl90, 'CL=90%', (14.3, 59.5, -43))],
      'C', (0.962, 0.950), [(2.56, 13.5), (9.37, 13.5), (24.7, 56.9)], {80}, 42.3, 37.3)

panel((489.3, 878.7, 824.0, 1145.7), F_gamma, GREEN,
      [(F_cl90, 'CL=90%', (16.0, 55.1, -48))],
      'F', (0.940, 0.948), [(2.39, 11.0), (9.84, 13.0), (24.6, 45.7)], {30, 60, 80}, 50.3, 37.6)

panel((43.3, 1291.7, 392.7, 1559.3), D_sus, RED,
      [(D_cl99, 'CL=99%', (5.27, 73.5, -57.6)), (D_cl90, 'CL=90%', (3.82, 66.4, -55))],
      'D', (0.973, 0.951), [(2.56, 10.6), (9.73, 12.2), (24.73, 28.5)], {20, 50, 70}, 41.4, 30)

panel((493.0, 1294.3, 802.0, 1568.3), G_res, GREEN,
      [(G_cl90, 'CL=90%', (16.2, 62.7, -58))],
      'G', (0.972, 0.947), [(2.85, 14.6), (9.19, 15.2), (24.64, 40.7)], {50, 90}, 33.7, 33.7,
      right_axis=True)

# ---------------- titles ----------------
ftext(213.3, 15, 'Global reference', 12.6)
ftext(206.7, 55, 'Jingbian (source proximal loess)', 9.8)
ftext(206.7, 72.3, 'Low field magnetic susceptibility', 9.8)
ftext(400.3, 426.7, 'Kevermes (source proximal fan section)', 13.3)
ftext(230.0, 459.3, 'Low field magnetic susceptibility', 9.8)
ftext(650.8, 455.0, 'Logged natural gamma', 9.8)
ftext(401.0, 828.3, 'Pusztaottlaka (source distal fan section)', 13.3)
ftext(238.8, 863.3, 'Low field magnetic susceptibility', 9.8)
ftext(652.5, 860.7, 'Logged natural gamma', 9.8)
ftext(426.0, 1237.7, 'Dévaványa (source distal fluvial plain section)', 13.3)
ftext(195.8, 1273.3, 'Low field magnetic susceptibility', 9.8)
ftext(643.5, 1272.7, 'Logged resistivity', 9.8)

fig.savefig('out.png', dpi=100, facecolor='white')
